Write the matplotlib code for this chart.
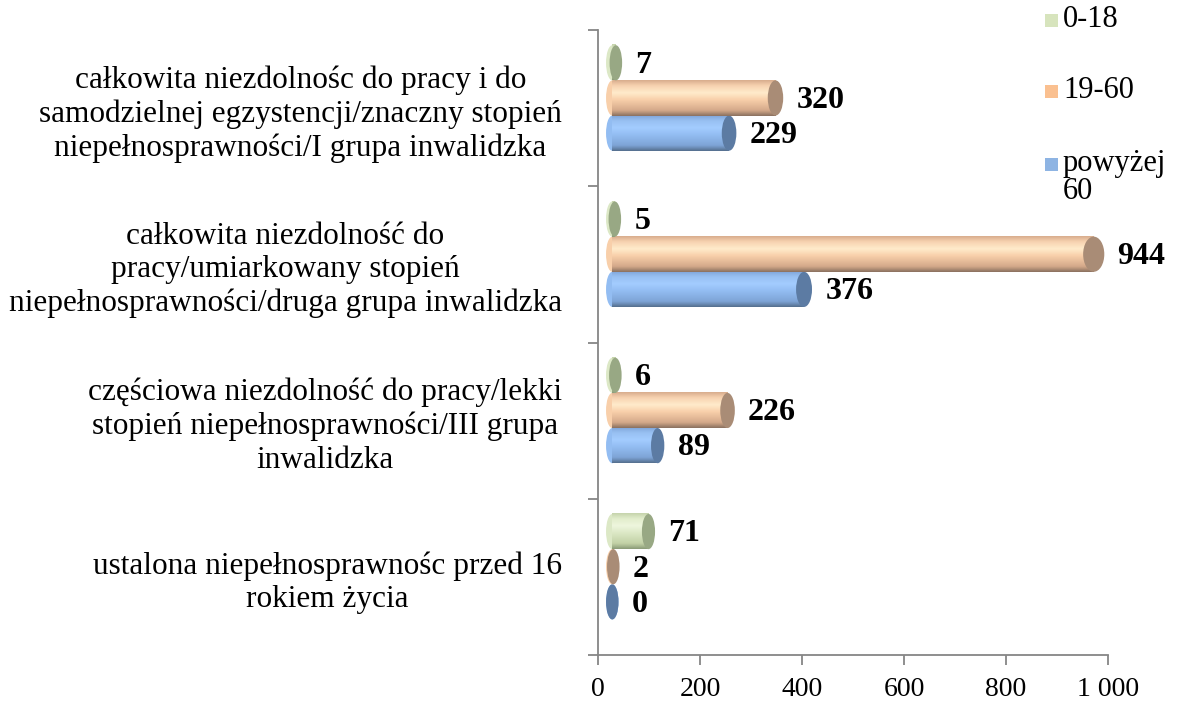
import numpy as np
import matplotlib.pyplot as plt
from matplotlib.patches import Ellipse, Rectangle
from matplotlib.colors import LinearSegmentedColormap

# categories listed top to bottom, as in the chart
categories = [
    "całkowita niezdolnośc do pracy i do\nsamodzielnej egzystencji/znaczny stopień\nniepełnosprawności/I grupa inwalidzka",
    "całkowita niezdolność do\npracy/umiarkowany stopień\nniepełnosprawności/druga grupa inwalidzka",
    "częściowa niezdolność do pracy/lekki\nstopień niepełnosprawności/III grupa\ninwalidzka",
    "ustalona niepełnosprawnośc przed 16\nrokiem życia",
]
series_names = ["0-18", "19-60", "powyżej\n60"]
val_0_18 = [7, 5, 6, 71]
val_19_60 = [320, 944, 226, 2]
val_60plus = [229, 376, 89, 0]

x_ticks = [0, 200, 400, 600, 800, 1000]
x_tick_labels = ["0", "200", "400", "600", "800", "1 000"]

FONT = "Liberation Serif"
W, H = 1179, 701

# styling per series: gradient stops (bottom -> top), cap colour, legend colour
styles = {
    "0-18": dict(
        grad=["#8C9C78", "#C2D1A6", "#DCE8C6", "#EEF6DD", "#E2EDCC", "#C6D4AD"],
        cap="#98A884", legend="#D7E4BD", dy=0.29),
    "19-60": dict(
        grad=["#8C7260", "#D4A98A", "#F8CFAA", "#FFEBCB", "#F7D2B0", "#D9AE8E"],
        cap="#A98C76", legend="#FAC090", dy=0.065),
    "powyżej\n60": dict(
        grad=["#55708F", "#7EA4D6", "#93BDF2", "#A3CCFF", "#98C0F2", "#7FA5D9"],
        cap="#5C7BA3", legend="#8EB4E3", dy=-0.16),
}
stops = [0.0, 0.15, 0.45, 0.65, 0.85, 1.0]

BAR_H = 0.225
X0 = 28          # depth offset of the 3D cylinders (data units)


def cap_width(x):
    # caps get a bit wider further right (perspective)
    return 24 + 0.018 * x


def draw_cylinder(ax, y, v, st, z):
    cmap = LinearSegmentedColormap.from_list("g", list(zip(stops, st["grad"])))
    mid = st["grad"][3]
    # left rounded end
    ax.add_patch(Ellipse((X0, y), cap_width(X0), BAR_H, facecolor=st["grad"][2],
                         edgecolor="none", zorder=z))
    if v > 0:
        bar = ax.barh(y, v, left=X0, height=BAR_H, color=mid, zorder=z + 0.1)[0]
        grad = cmap(np.linspace(0, 1, 64))[:, None, :3]
        ax.imshow(grad, extent=[X0, X0 + v, y - BAR_H / 2, y + BAR_H / 2],
                  origin="lower", aspect="auto", zorder=z + 0.2, clip_path=bar,
                  interpolation="bilinear")
    ax.add_patch(Ellipse((X0 + v, y), cap_width(X0 + v), BAR_H, facecolor=st["cap"],
                         edgecolor="none", zorder=z + 0.3))
    ax.text(X0 + v + cap_width(X0 + v) / 2 + 26, y - 0.015, str(v), ha="left", va="center",
            fontsize=23, fontweight="bold", family=FONT, zorder=10)


fig = plt.figure(figsize=(W / 100, H / 100), dpi=100)
ax = fig.add_axes([598 / W, 1 - 655 / H, 510 / W, 625 / H])

ypos = np.arange(len(categories))[::-1]
series = [("powyżej\n60", val_60plus), ("19-60", val_19_60), ("0-18", val_0_18)]
for k, (name, vals) in enumerate(series):
    st = styles[name]
    for y, v in zip(ypos, vals):
        draw_cylinder(ax, y + st["dy"], v, st, 2 + k)

ax.set_xlim(0, 1000)
ax.set_ylim(-0.5, len(categories) - 0.5)

ax.set_xticks(x_ticks)
ax.set_xticklabels(x_tick_labels, family=FONT, fontsize=20)
ax.set_yticks(np.arange(-0.5, len(categories), 1.0))
ax.set_yticklabels([])
ax.set_yticks(ypos, minor=True)
ax.set_yticklabels(categories, minor=True, family=FONT, fontsize=22.5,
                   multialignment="center", linespacing=1.2)
ax.tick_params(axis="y", which="minor", length=0, pad=26)
ax.tick_params(axis="both", which="major", length=7, width=1.3, color="#868686",
               direction="out")
ax.tick_params(axis="x", pad=9)

for s in ["top", "right"]:
    ax.spines[s].set_visible(False)
for s in ["left", "bottom"]:
    ax.spines[s].set_color("#868686")
    ax.spines[s].set_linewidth(1.3)

# legend, drawn by hand so the square sits on the first line of each label
leg_y = [20, 91, 164]
for name, yy in zip(series_names, leg_y):
    fig.patches.append(Rectangle((1045 / W, 1 - (yy + 7) / H), 13 / W, 13 / H,
                                 transform=fig.transFigure, facecolor=styles[name]["legend"],
                                 edgecolor="none"))
    fig.text(1063 / W, 1 - (yy - 15) / H, name, ha="left", va="top", family=FONT,
             fontsize=22, linespacing=0.95)

fig.savefig("out.png", dpi=100)
